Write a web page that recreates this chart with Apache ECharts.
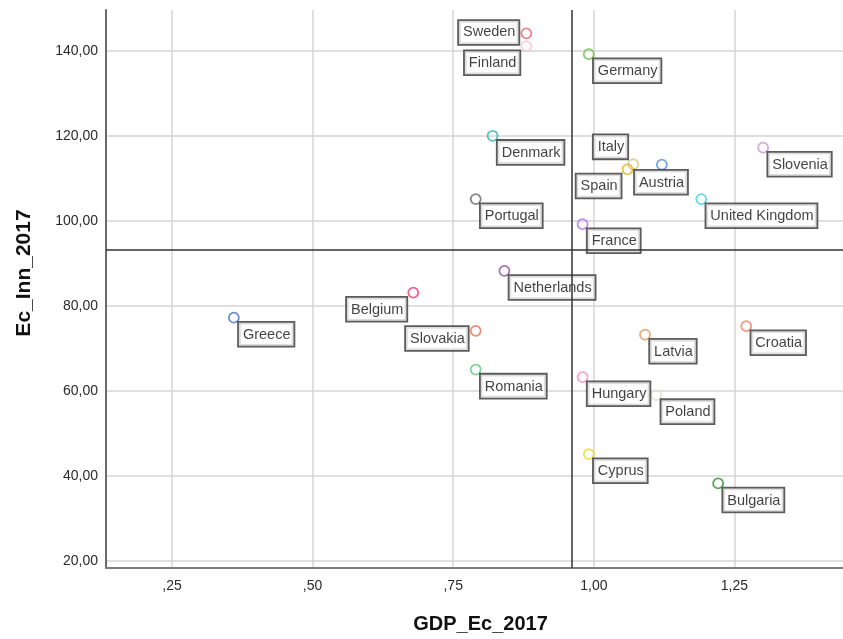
<!DOCTYPE html>
<html>
<head>
<meta charset="utf-8">
<title>GDP_Ec_2017 vs Ec_Inn_2017</title>
<script src="https://cdn.jsdelivr.net/npm/echarts@6/dist/echarts.min.js"></script>
<style>
  html, body { margin: 0; padding: 0; background: #fff; }
  #chart { width: 843px; height: 639px; }
</style>
</head>
<body>
<div id="chart"></div>
<script>
// Countries, in the order the markers are drawn
const countries = ['Sweden', 'Finland', 'Germany', 'Denmark', 'Italy', 'Spain', 'Austria', 'Slovenia',
  'Portugal', 'United Kingdom', 'France', 'Netherlands', 'Belgium', 'Greece', 'Slovakia', 'Romania',
  'Latvia', 'Croatia', 'Hungary', 'Poland', 'Cyprus', 'Bulgaria'];

// GDP_Ec_2017 (x)
const gdpEc2017 = [0.880, 0.880, 0.991, 0.820, 1.070, 1.060, 1.121, 1.301,
  0.790, 1.191, 0.980, 0.841, 0.679, 0.360, 0.790, 0.790,
  1.091, 1.271, 0.980, 1.111, 0.991, 1.221];

// Ec_Inn_2017 (y)
const ecInn2017 = [144.1, 141.1, 139.2, 120.0, 113.3, 112.1, 113.2, 117.2,
  105.1, 105.1, 99.2, 88.2, 83.1, 77.2, 74.1, 65.0,
  73.2, 75.2, 63.2, 59.0, 45.1, 38.2];

// Tick values
const xTicks = [0.25, 0.50, 0.75, 1.00, 1.25];
const yTicks = [20, 40, 60, 80, 100, 120, 140];

// Marker colours, one per country
const markerColors = ['#f0606c', '#f8c4d4', '#6cc044', '#30b8a8', '#d8c884', '#e0b020', '#5090e8', '#d090e0',
  '#666666', '#40d0e0', '#b070e8', '#9050a0', '#e8406c', '#4870c8', '#e87050', '#60c880',
  '#e09860', '#f08060', '#f890b8', '#e6e0d2', '#e8e020', '#309030'];

// Label box placement relative to the marker centre (default: below right)
const labelPlacement = {
  'Sweden':   { align: 'right',  verticalAlign: 'middle', offset: [-7, 0] },
  'Finland':  { align: 'right',  verticalAlign: 'top',    offset: [-6, 6] },
  'Italy':    { align: 'right',  verticalAlign: 'bottom', offset: [-5, -5] },
  'Spain':    { align: 'right',  verticalAlign: 'top',    offset: [-6, 6] },
  'Austria':  { align: 'center', verticalAlign: 'top',    offset: [0, 7] },
  'Slovakia': { align: 'right',  verticalAlign: 'top',    offset: [-7, -3] },
  'Belgium':  { align: 'right',  verticalAlign: 'top',    offset: [-6, 6] }
};
const defaultPlacement = { align: 'left', verticalAlign: 'top', offset: [6, 6] };

const FONT = '"Liberation Sans", Arial, Helvetica, sans-serif';

function mean(arr) { return arr.reduce((a, b) => a + b, 0) / arr.length; }
const meanX = mean(gdpEc2017);
const meanY = mean(ecInn2017);

function commaFormat(v) {
  let s = Number(v).toFixed(2).replace('.', ',');
  if (s.indexOf('0,') === 0) s = s.slice(1);
  return s;
}

const points = countries.map((name, i) => {
  const p = labelPlacement[name] || defaultPlacement;
  return {
    name: name,
    value: [gdpEc2017[i], ecInn2017[i]],
    itemStyle: { color: 'rgba(255,255,255,0)', borderColor: markerColors[i], borderWidth: 1.8 },
    label: { align: p.align, verticalAlign: p.verticalAlign, offset: p.offset }
  };
});

const chart = echarts.init(document.getElementById('chart'), null, { renderer: 'canvas' });

chart.setOption({
  animation: false,
  backgroundColor: '#ffffff',
  grid: { left: 106, top: 10, right: 0, bottom: 71, containLabel: false },
  xAxis: {
    type: 'value',
    min: 0.1327,
    max: 1.443,
    name: 'GDP_Ec_2017',
    nameLocation: 'middle',
    nameGap: 46,
    nameTextStyle: { fontSize: 20, fontWeight: 'bold', color: '#111', fontFamily: FONT, padding: [0, 0, 0, 12] },
    axisLine: { show: true, onZero: false, lineStyle: { color: '#7c7c7c', width: 2 } },
    axisTick: { show: false, customValues: xTicks },
    axisLabel: { customValues: xTicks, formatter: commaFormat, fontSize: 14, color: '#2a2a2a', fontFamily: FONT, margin: 11 },
    splitLine: { show: true, lineStyle: { color: '#d4d4d4', width: 1.5 } }
  },
  yAxis: {
    type: 'value',
    min: 18.3,
    max: 149.6,
    name: 'Ec_Inn_2017',
    nameLocation: 'middle',
    nameGap: 71,
    nameRotate: 90,
    nameTextStyle: { fontSize: 21, fontWeight: 'bold', color: '#111', fontFamily: FONT, padding: [0, 0, 0, 32] },
    axisLine: { show: true, onZero: false, lineStyle: { color: '#6a6a6a', width: 2 } },
    axisTick: { show: false, customValues: yTicks },
    axisLabel: { customValues: yTicks, formatter: commaFormat, fontSize: 14, color: '#2a2a2a', fontFamily: FONT, margin: 8 },
    splitLine: { show: true, lineStyle: { color: '#d4d4d4', width: 1.5 } }
  },
  series: [
    {
      type: 'scatter',
      z: 3,
      symbol: 'circle',
      symbolSize: 10,
      data: points,
      label: {
        show: true,
        position: [5, 5],
        formatter: '{b}',
        fontSize: 14.5,
        fontFamily: FONT,
        color: '#111',
        backgroundColor: '#ffffff',
        borderColor: '#333333',
        borderWidth: 1.8,
        padding: [4, 3, 3, 4],
        lineHeight: 16
      },
      emphasis: { disabled: true }
    },
    {
      // mean reference lines
      type: 'line',
      z: 10,
      data: [],
      silent: true,
      markLine: {
        silent: true,
        symbol: ['none', 'none'],
        label: { show: false },
        lineStyle: { color: '#333333', width: 1.5, type: 'solid' },
        emphasis: { disabled: true },
        data: [{ xAxis: meanX }, { yAxis: meanY }]
      }
    }
  ]
});
</script>
</body>
</html>
